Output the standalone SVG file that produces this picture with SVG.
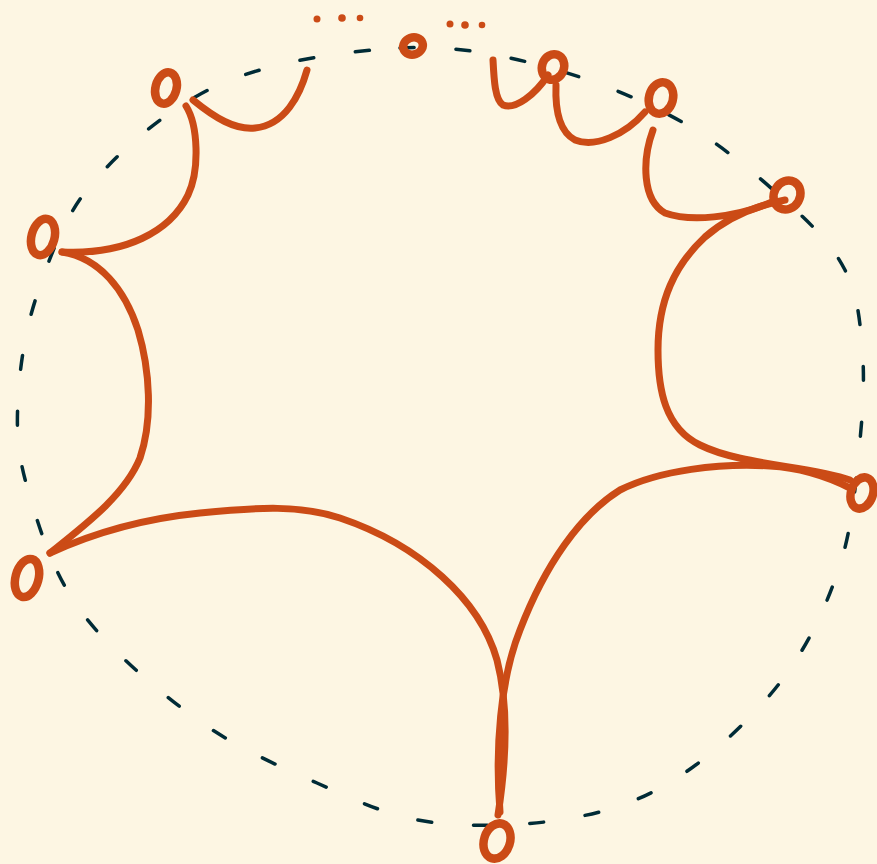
<svg xmlns="http://www.w3.org/2000/svg" width="877" height="864" viewBox="0 0 877 864">
<style>
.bg{fill:#FDF6E3}
.ring{fill:none;stroke:#002B36;stroke-width:3.5;stroke-linecap:round;stroke-dasharray:14 42}
.node{fill:none;stroke:#CB4B16;stroke-width:8.5}
.edge{fill:none;stroke:#CB4B16;stroke-width:7;stroke-linecap:round;stroke-linejoin:round}
.dot{fill:#CB4B16}
</style>
<rect class="bg" x="0" y="0" width="877" height="864"/>
<path class="ring" d="M400,48 C453.3,45.2 496,53.7 543,66 C590,78.3 640.8,98.8 682,122 C723.2,145.2 762.8,180.3 790,205 C817.2,229.7 833,246.7 845,270 C857,293.3 859.5,316.7 862,345 C864.5,373.3 863.7,403.3 860,440 C856.3,476.7 853,525 840,565 C827,605 808.7,644.8 782,680 C755.3,715.2 715,753 680,776 C645,799 613.7,810.3 572,818 C530.3,825.7 472.5,827.8 430,822 C387.5,816.2 356.2,800.3 317,783 C277.8,765.7 234.5,746.8 195,718 C155.5,689.2 107.8,648 80,610 C52.2,572 38.3,525 28,490 C17.7,455 16.3,433 18,400 C19.7,367 25.2,328.7 38,292 C50.8,255.3 64.2,214.8 95,180 C125.8,145.2 172.2,105 223,83 C273.8,61 346.7,50.8 400,48 Z"/>
<g id="dots">
<circle class="dot" cx="317" cy="19" r="3.5"/>
<circle class="dot" cx="342" cy="18" r="3.8"/>
<circle class="dot" cx="360" cy="18" r="3.3"/>
<circle class="dot" cx="450" cy="24" r="3.5"/>
<circle class="dot" cx="465" cy="25" r="3.8"/>
<circle class="dot" cx="482" cy="25" r="3.3"/>
</g>
<g id="connectors">
<path class="edge" d="M186,106 C198,125 200,170 188,195 C170,232 125,255 62,252"/>
<path class="edge" d="M193,100 C215,118 235,130 255,128 C285,125 300,95 307,70"/>
<path class="edge" d="M62,252 C100,258 125,290 138,330 C150,370 153,420 140,458 C125,495 85,525 50,553"/>
<path class="edge" d="M50,553 C100,530 150,518 200,513 C260,507 300,505 340,518 C420,545 480,600 497,660 C510,710 505,770 498,815"/>
<path class="edge" d="M500,812 C495,750 500,680 520,630 C545,565 580,515 620,490 C660,470 720,463 770,466 C805,468 830,478 850,488"/>
<path class="edge" d="M850,480 C810,466 740,465 700,445 C665,428 658,390 658,350 C658,300 675,265 705,237 C730,215 760,205 785,200"/>
<path class="edge" d="M653,130 C642,160 642,200 665,213 C690,222 735,218 772,202"/>
<path class="edge" d="M645,112 C625,135 595,148 575,140 C560,132 555,110 556,85"/>
<path class="edge" d="M548,75 C535,95 515,110 503,105 C495,100 494,80 493,60"/>
</g>
<g id="n1"><ellipse class="node" cx="0" cy="0" rx="10.5" ry="16" transform="translate(166,88) rotate(15)"/></g>
<g id="n2"><ellipse class="node" cx="0" cy="0" rx="11.5" ry="18.5" transform="translate(43,237) rotate(15)"/></g>
<g id="n3"><ellipse class="node" cx="0" cy="0" rx="11.5" ry="19.5" transform="translate(27,578) rotate(15)"/></g>
<g id="n4"><ellipse class="node" cx="0" cy="0" rx="13" ry="18" transform="translate(497,841) rotate(18)"/></g>
<g id="n5"><ellipse class="node" cx="0" cy="0" rx="11" ry="16" transform="translate(862,493) rotate(18)"/></g>
<g id="n6"><ellipse class="node" cx="0" cy="0" rx="13" ry="15" transform="translate(787,195) rotate(30)"/></g>
<g id="n7"><ellipse class="node" cx="0" cy="0" rx="12" ry="16" transform="translate(661,98) rotate(15)"/></g>
<g id="n8"><ellipse class="node" cx="0" cy="0" rx="11" ry="13" transform="translate(553,67) rotate(20)"/></g>
<g id="n9"><ellipse class="node" cx="0" cy="0" rx="10" ry="8.5" transform="translate(413,46) rotate(-20)"/></g>
</svg>
